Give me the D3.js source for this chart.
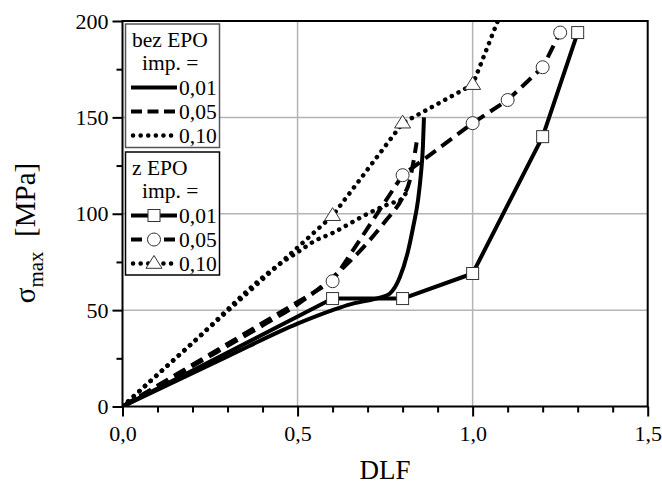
<!DOCTYPE html>
<html><head><meta charset="utf-8">
<script src="https://cdn.jsdelivr.net/npm/d3@7/dist/d3.min.js"></script>
<style>body{margin:0;background:#fff;} svg{display:block;} text{font-family:"Liberation Serif","DejaVu Serif",serif;fill:#000;}</style>
</head><body>
<svg id="c" width="662" height="486"></svg>
<script>
// ---- data ----
const xTickVals = [0, 0.5, 1.0, 1.5];
const xTickLabels = ["0,0", "0,5", "1,0", "1,5"];
const yTickVals = [0, 50, 100, 150, 200];
const yTickLabels = ["0", "50", "100", "150", "200"];

// bez EPO (no markers)
const bezSolidX = [0, 0.3, 0.5, 0.6, 0.65, 0.7, 0.735, 0.763, 0.792, 0.816, 0.83, 0.844, 0.852, 0.858, 0.861];
const bezSolidY = [0, 26, 43, 50, 53, 55, 56.5, 58.5, 67, 81, 93, 107, 120, 135, 150];
const bezDashX = [0, 0.2, 0.4, 0.5, 0.6, 0.7, 0.75, 0.8, 0.82, 0.83, 0.84];
const bezDashY = [0, 21, 42, 53, 67, 85, 96, 108.5, 117, 126, 137];
const bezDotX = [0, 0.2, 0.45, 0.5, 0.55, 0.6, 0.65, 0.7, 0.76, 0.8, 0.81];
const bezDotY = [0, 33, 74, 80, 86, 90, 95, 100, 105, 108, 111];

// z EPO (with markers)
const zSolidX = [0, 0.6, 0.8, 1.0, 1.2, 1.3];
const zSolidY = [0, 56, 56, 69, 140, 194];
const zDashX = [0, 0.6, 0.8, 1.0, 1.1, 1.2, 1.25];
const zDashY = [0, 65, 120, 147, 159, 176, 194];
const zDotX = [0, 0.6, 0.8, 1.0, 1.1];
const zDotY = [0, 99, 147, 167, 213];

const legendLabels = ["0,01", "0,05", "0,10"];

// ---- layout ----
const L = 122.5, R = 647.7, T = 21, B = 406.5;
const svg = d3.select("#c");
const x = d3.scaleLinear().domain([0, 1.5]).range([L, R]);
const y = d3.scaleLinear().domain([0, 200]).range([B, T]);
const SERIF = "Liberation Serif";

// grid
const grid = svg.append("g");
grid.selectAll(".gx").data([0.5, 1.0]).enter().append("line")
  .attr("x1", d => x(d)).attr("x2", d => x(d)).attr("y1", T).attr("y2", B)
  .attr("stroke", "#b4b4b4").attr("stroke-width", 1.5);
grid.selectAll(".gy").data([50, 100, 150]).enter().append("line")
  .attr("y1", d => y(d)).attr("y2", d => y(d)).attr("x1", L).attr("x2", R)
  .attr("stroke", "#b4b4b4").attr("stroke-width", 1.5);

// clip
svg.append("clipPath").attr("id", "clip").append("rect")
  .attr("x", L).attr("y", T).attr("width", R - L).attr("height", B - T);

const styles = {
  solid: {dash: null, cap: "butt"},
  dash: {dash: "13,7", cap: "butt"},
  dot: {dash: "0.1,7.5", cap: "round"}
};

function zip(xs, ys) { return xs.map((v, i) => [v, ys[i]]); }

const plot = svg.append("g").attr("clip-path", "url(#clip)");
function drawLine(data, st, curve) {
  const line = d3.line().x(d => x(d[0])).y(d => y(d[1])).curve(curve);
  plot.append("path").attr("d", line(data)).attr("fill", "none")
    .attr("stroke", "#000").attr("stroke-width", st === "dot" ? 4.5 : 4)
    .attr("stroke-dasharray", styles[st].dash).attr("stroke-linecap", styles[st].cap)
    .attr("stroke-linejoin", "round");
}

function marker(g, type, cx, cy) {
  if (type === "square") {
    g.append("rect").attr("x", cx - 6).attr("y", cy - 6).attr("width", 12).attr("height", 12)
      .attr("fill", "#fff").attr("stroke", "#333").attr("stroke-width", 1);
  } else if (type === "circle") {
    g.append("circle").attr("cx", cx).attr("cy", cy).attr("r", 6.5)
      .attr("fill", "#fff").attr("stroke", "#333").attr("stroke-width", 1);
  } else {
    const s = 8;
    g.append("path").attr("d", `M${cx},${cy - s}L${cx + s},${cy + s * 0.6}L${cx - s},${cy + s * 0.6}Z`)
      .attr("fill", "#fff").attr("stroke", "#333").attr("stroke-width", 1);
  }
}

drawLine(zip(bezSolidX, bezSolidY), "solid", d3.curveMonotoneX);
drawLine(zip(bezDashX, bezDashY), "dash", d3.curveMonotoneX);
drawLine(zip(bezDotX, bezDotY), "dot", d3.curveMonotoneX);
drawLine(zip(zSolidX, zSolidY), "solid", d3.curveLinear);
drawLine(zip(zDashX, zDashY), "dash", d3.curveLinear);
drawLine(zip(zDotX, zDotY), "dot", d3.curveLinear);

const mk = plot.append("g");
[[zSolidX, zSolidY, "square"], [zDashX, zDashY, "circle"], [zDotX, zDotY, "triangle"]].forEach(([xs, ys, t]) => {
  xs.forEach((v, i) => { if (i > 0 && ys[i] <= 200) marker(mk, t, x(v), y(ys[i])); });
});

// axes
const xAxis = d3.axisBottom(x).tickValues(xTickVals).tickFormat((d, i) => xTickLabels[i]).tickSize(10).tickPadding(9);
const gx = svg.append("g").attr("transform", `translate(0,${B})`).call(xAxis).attr("font-family", SERIF);
gx.select(".domain").remove();
gx.selectAll(".tick line").attr("stroke", "#000").attr("stroke-width", 2);
gx.selectAll(".tick text").style("font-size", "22px").style("font-family", SERIF);
const gxm = svg.append("g").attr("transform", `translate(0,${B})`)
  .call(d3.axisBottom(x).tickValues(d3.range(1, 15).filter(i => i % 5 !== 0).map(i => i / 10)).tickSize(6).tickFormat(""));
gxm.select(".domain").remove();
gxm.selectAll(".tick line").attr("stroke", "#000").attr("stroke-width", 2);

const yAxis = d3.axisLeft(y).tickValues(yTickVals).tickFormat((d, i) => yTickLabels[i]).tickSize(10).tickPadding(4);
const gy = svg.append("g").attr("transform", `translate(${L},0)`).call(yAxis).attr("font-family", SERIF);
gy.select(".domain").remove();
gy.selectAll(".tick line").attr("stroke", "#000").attr("stroke-width", 2);
gy.selectAll(".tick text").style("font-size", "22px").style("font-family", SERIF);
const gym = svg.append("g").attr("transform", `translate(${L},0)`)
  .call(d3.axisLeft(y).tickValues([25, 75, 125, 175]).tickSize(6).tickFormat(""));
gym.select(".domain").remove();
gym.selectAll(".tick line").attr("stroke", "#000").attr("stroke-width", 2);

// frame
svg.append("rect").attr("x", L).attr("y", T).attr("width", R - L).attr("height", B - T)
  .attr("fill", "none").attr("stroke", "#000").attr("stroke-width", 2);

// titles
svg.append("text").attr("x", (L + R) / 2).attr("y", 479).attr("text-anchor", "middle")
  .style("font-size", "27px").text("DLF");
const yt = svg.append("text").attr("transform", `translate(35,${233}) rotate(-90)`).attr("text-anchor", "middle")
  .style("font-size", "29px");
yt.append("tspan").text("σ");
yt.append("tspan").attr("dy", 8).style("font-size", "21px").text("max");
yt.append("tspan").attr("dy", -8).text("\u00a0 [MPa]");

// legends
function legend(top, bottom, title, types, borderColor) {
  const g = svg.append("g");
  g.append("rect").attr("x", 125.5).attr("y", top).attr("width", 94).attr("height", bottom - top)
    .attr("fill", "#fff").attr("stroke", borderColor).attr("stroke-width", 1.5);
  g.append("text").attr("x", 132).attr("y", top + 23).style("font-size", "21.5px").text(title);
  g.append("text").attr("x", 142).attr("y", top + 46).style("font-size", "21.5px").text("imp. =");
  ["solid", "dash", "dot"].forEach((st, i) => {
    const cy = top + 63.5 + i * 24;
    g.append("line").attr("x1", st === "dot" ? 133 : 131).attr("x2", 177).attr("y1", cy).attr("y2", cy)
      .attr("stroke", "#000").attr("stroke-width", st === "dot" ? 4.5 : 4)
      .attr("stroke-dasharray", st === "dash" ? "11,5.5" : styles[st].dash).attr("stroke-linecap", styles[st].cap);
    if (types) marker(g, types[i], 154, cy);
    g.append("text").attr("x", 179).attr("y", cy + 7.5).style("font-size", "21.5px").text(legendLabels[i]);
  });
}
legend(24, 147.5, "bez EPO", null, "#555");
legend(152, 275, "z EPO", ["square", "circle", "triangle"], "#000");
</script>
</body></html>
